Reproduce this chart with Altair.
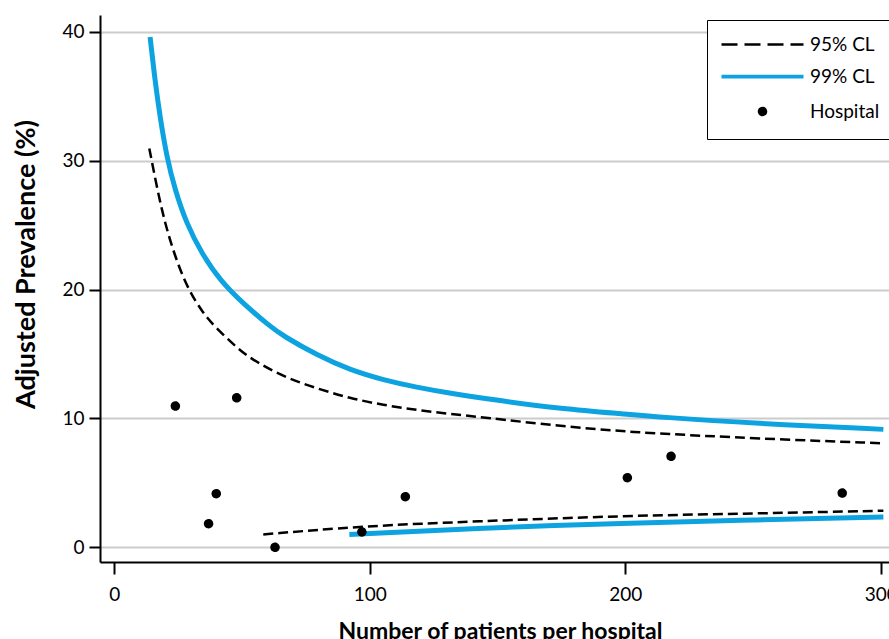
import altair as alt
import pandas as pd

# ---- data ----
series_names = ["95% CL", "99% CL", "Hospital"]
series_colors = ["#000000", "#0ca3e0", "#000000"]

ci95_upper_n = [13.7, 16.6, 19.5, 23.5, 28.6, 34.8, 39.4, 47.9, 53.1, 66.1, 79.2, 92.2, 105.3, 118.4, 131.4, 144.4, 174.5, 199.2, 213.6, 250.1, 301]
ci95_upper_v = [30.95, 28.0, 25.4, 22.7, 20.1, 18.15, 17.1, 15.5, 14.66, 13.23, 12.33, 11.56, 11.04, 10.65, 10.35, 10.08, 9.4, 9.0, 8.82, 8.45, 8.07]
ci95_lower_n = [58.3, 97.5, 140.0, 200.0, 250.0, 301]
ci95_lower_v = [1.0, 1.65, 2.0, 2.45, 2.62, 2.84]

ci99_upper_n = [14.0, 15.9, 17.9, 20.5, 23.8, 28.3, 34.2, 41.4, 50.5, 60.9, 66.1, 79.2, 92.2, 105.4, 118.4, 131.4, 150, 175, 199.2, 213.6, 250.1, 301]
ci99_upper_v = [39.6, 36.25, 33.4, 30.3, 27.7, 25.1, 22.8, 20.7, 18.9, 17.15, 16.4, 14.92, 13.76, 12.98, 12.41, 11.95, 11.4, 10.75, 10.35, 10.1, 9.62, 9.15]
ci99_lower_n = [92.0, 140.5, 200.0, 250.0, 301]
ci99_lower_v = [1.0, 1.47, 1.88, 2.12, 2.35]

hospital_n = [23.9, 47.9, 39.9, 36.9, 62.9, 96.9, 113.9, 200.8, 217.9, 284.9]
hospital_v = [10.96, 11.6, 4.16, 1.83, 0.0, 1.19, 3.93, 5.4, 7.06, 4.21]

x_ticks = [0, 100, 200, 300]
y_ticks = [0, 10, 20, 30, 40]

# ---- tables ----
rows = []
for part, ns, vs, s in [
    ("95u", ci95_upper_n, ci95_upper_v, "95% CL"),
    ("95l", ci95_lower_n, ci95_lower_v, "95% CL"),
    ("99u", ci99_upper_n, ci99_upper_v, "99% CL"),
    ("99l", ci99_lower_n, ci99_lower_v, "99% CL"),
]:
    for n, v in zip(ns, vs):
        rows.append({"n": n, "v": v, "series": s, "part": part})
lines_df = pd.DataFrame(rows)
pts_df = pd.DataFrame({"n": hospital_n, "v": hospital_v, "series": "Hospital"})

FONT = "Lato"

x_enc = alt.X(
    "n:Q",
    scale=alt.Scale(domain=[-5.6, 303.2], nice=False, zero=False),
    axis=alt.Axis(
        values=x_ticks, grid=False, title="Number of patients per hospital",
        titleFont=FONT, titleFontSize=23, titleFontWeight="bold", titleColor="#000000",
        titleX=400, titleY=76, titleBaseline="alphabetic", titleAlign="center",
        labelFont=FONT, labelFontSize=19, labelColor="#000000", labelPadding=11,
        domainColor="#000000", domainWidth=2, tickColor="#000000", tickWidth=2, tickSize=12,
    ),
)
y_enc = alt.Y(
    "v:Q",
    scale=alt.Scale(domain=[-1.14, 41.3], nice=False, zero=False),
    axis=alt.Axis(
        values=y_ticks, grid=True, gridColor="#cccccc", gridWidth=2,
        title="Adjusted Prevalence (%)",
        titleFont=FONT, titleFontSize=27, titleFontWeight="bold", titleColor="#000000",
        titleAngle=270, titleX=-74, titleY=249, titleAlign="center", titleBaseline="middle",
        labelFont=FONT, labelFontSize=19, labelColor="#000000", labelPadding=5,
        domainColor="#000000", domainWidth=2, tickColor="#000000", tickWidth=2, tickSize=11,
    ),
)

legend = alt.Legend(
    title=None, orient="none", legendX=607, legendY=5,
    strokeColor="#000000", fillColor="#ffffff", padding=15, rowPadding=12,
    symbolSize=100, symbolOffset=31, labelOffset=38, symbolOpacity=1,
    labelFont=FONT, labelFontSize=19, labelColor="#000000",
)

# symbol shapes (unit coordinates, scaled by symbol size)
stroke_path = "M-8.2,0L8.2,0"
dot_path = "M-0.45,0A0.45,0.45 0 1,0 0.45,0A0.45,0.45 0 1,0 -0.45,0Z"

base = alt.Chart(lines_df)

line95 = base.transform_filter(alt.datum.series == "95% CL").mark_line(
    color=series_colors[0], strokeDash=[10, 5], strokeWidth=2.5, interpolate="basis"
).encode(x=x_enc, y=y_enc, detail="part:N", order="n:Q")

line99 = base.transform_filter(alt.datum.series == "99% CL").mark_line(
    color=series_colors[1], strokeWidth=5, interpolate="basis"
).encode(x=x_enc, y=y_enc, detail="part:N", order="n:Q")

# hospital points; this layer also carries the combined legend
points = alt.Chart(pts_df).mark_point(filled=False, opacity=1, size=100).encode(
    x=x_enc, y=y_enc,
    color=alt.Color("series:N", scale=alt.Scale(domain=series_names, range=series_colors),
                    legend=legend),
    fill=alt.Fill("series:N", scale=alt.Scale(domain=series_names,
                  range=["#000000", "#000000", "#000000"]), legend=legend),
    shape=alt.Shape("series:N", scale=alt.Scale(domain=series_names,
                    range=[stroke_path, stroke_path, dot_path]), legend=legend),
    strokeWidth=alt.StrokeWidth("series:N", scale=alt.Scale(domain=series_names,
                    range=[2.5, 5, 0.5]), legend=legend),
    strokeDash=alt.StrokeDash("series:N", scale=alt.Scale(domain=series_names,
                    range=[[16, 7], [1, 0], [1, 0]]), legend=legend),
)

chart = alt.layer(line95, line99, points).properties(
    width=789, height=547,
    autosize=alt.AutoSizeParams(type="none"),
    padding={"left": 100, "top": 15, "right": 0, "bottom": 77},
    background="#ffffff",
).configure_view(stroke=None)

chart.save("out.html", embed_options={"renderer": "svg", "actions": False})
